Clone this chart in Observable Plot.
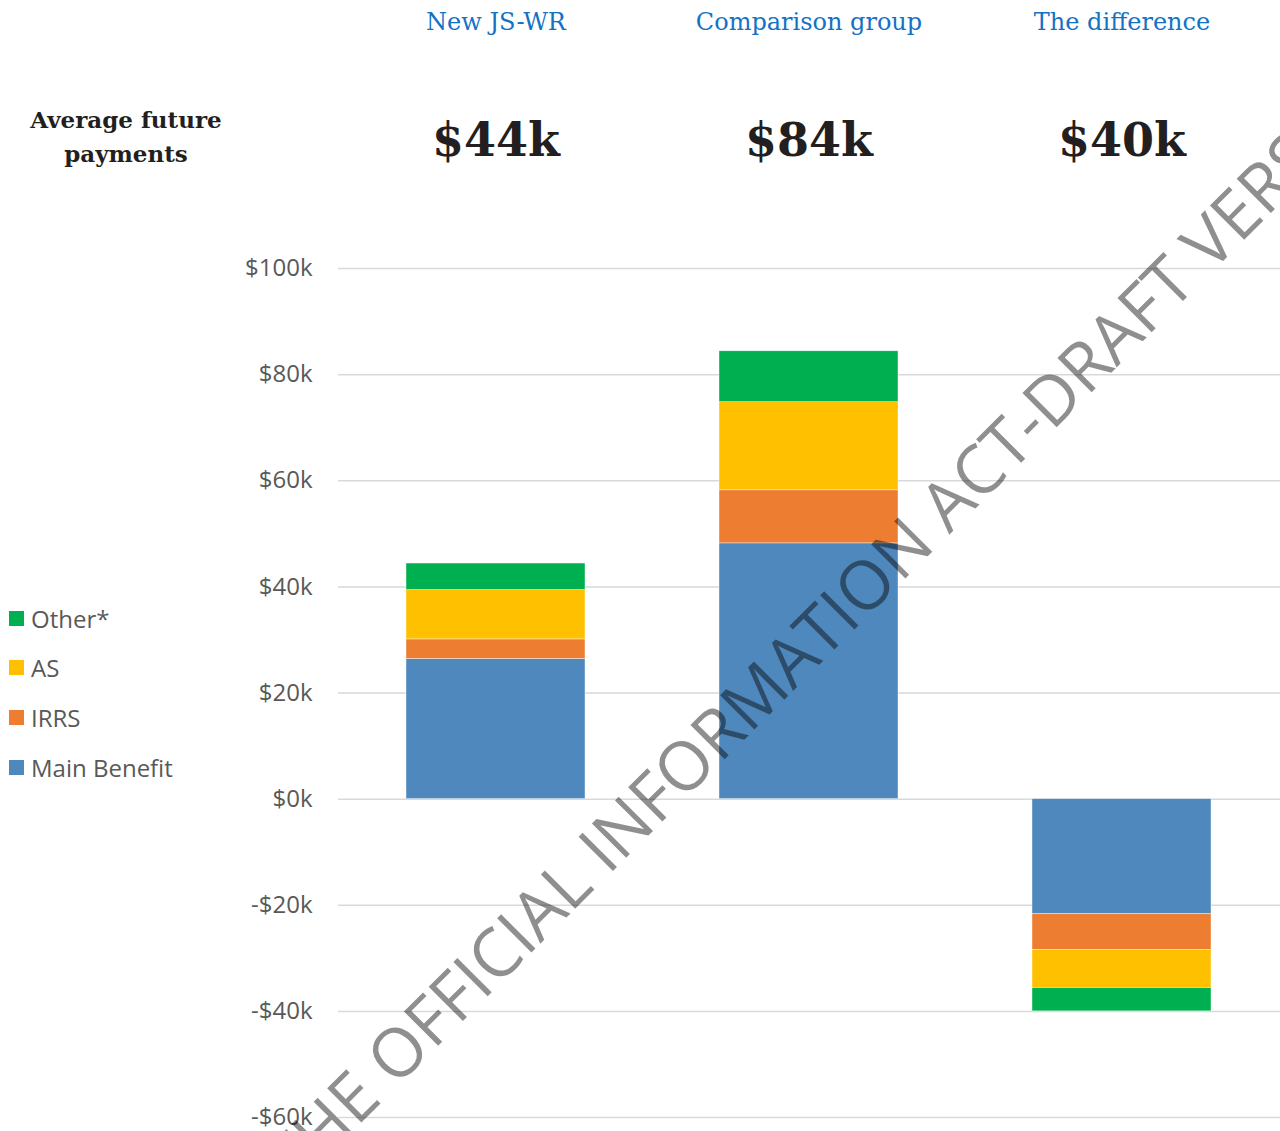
<!DOCTYPE html>
<html>
<head>
<meta charset="utf-8">
<script src="https://cdn.jsdelivr.net/npm/d3@7"></script>
<script src="https://cdn.jsdelivr.net/npm/@observablehq/plot@0.6"></script>
<style>
  body { margin: 0; background: #fff; }
  #wrap { position: relative; width: 1280px; height: 1131px; overflow: hidden; background: #fff; }
  #wrap > svg { position: absolute; left: 0; top: 0; }
  .rowlabel { position: absolute; left: 0; top: 103px; width: 252px; text-align: center;
    font-family: "DejaVu Serif", serif; font-weight: bold; font-size: 23px; line-height: 34px; color: #231F20; }
  .legend { position: absolute; left: 9px; top: 603px; font-family: "Open Sans", sans-serif; font-size: 24px; color: #595959; }
  .legend .row { display: flex; align-items: center; height: 30px; margin-bottom: 19.7px; }
  .legend .sw { width: 15px; height: 15px; margin-right: 7px; }
</style>
</head>
<body>
<div id="wrap"></div>
<script>
// ---- data (values in $ thousands) ----
const groups = ["New JS-WR", "Comparison group", "The difference"];
const totals = ["$44k", "$84k", "$40k"];
const series = ["Main Benefit", "IRRS", "AS", "Other*"];
const mainBenefit = [26.4, 48.2, -21.7];
const irrs = [3.7, 10.0, -6.7];
const as = [9.3, 16.6, -7.2];
const other = [5.0, 9.6, -4.4];
const colors = ["#4F88BC", "#ED7D31", "#FFC000", "#00B050"];
const yTicks = [-60, -40, -20, 0, 20, 40, 60, 80, 100];
const rowLabel = ["Average future", "payments"];
const watermark = ["RELEASED UNDER THE ", "OFFICIAL INFORMATION ACT-DRAFT VERSION"];

const seriesValues = [mainBenefit, irrs, as, other];
const data = series.flatMap((s, i) => groups.map((g, j) => ({group: g, series: s, value: seriesValues[i][j]})));

const fmt = d => (d < 0 ? "-" : "") + "$" + Math.abs(d) + "k";

const chart = Plot.plot({
  width: 1280,
  height: 1131,
  marginTop: 268,
  marginBottom: 14,
  marginLeft: 338,
  marginRight: 0,
  style: {background: "transparent", fontFamily: "Open Sans, sans-serif", fontSize: "24px", color: "#595959"},
  x: {domain: groups, range: [270.5, 1345.5], padding: 0.429, axis: null},
  y: {domain: [-60, 100], axis: null},
  color: {domain: series, range: colors},
  marks: [
    Plot.gridY(yTicks, {stroke: "#d9d9d9", strokeOpacity: 1, strokeWidth: 1.5}),
    Plot.barY(data, {x: "group", y: "value", fill: "series", stroke: "#ffffff", strokeWidth: 0.6, strokeOpacity: 0.7}),
    Plot.axisY(yTicks, {tickSize: 0, tickPadding: 26, tickFormat: fmt, fontSize: 24, fill: "#595959", label: null}),
    Plot.text(groups, {x: d => d, frameAnchor: "top", dy: -256, fill: "#1472C4", fontSize: 24, fontFamily: "DejaVu Serif, serif"}),
    Plot.text(totals, {x: (d, i) => groups[i], frameAnchor: "top", dy: -145, fill: "#231F20", fontSize: 46, fontWeight: "bold", fontFamily: "DejaVu Serif, serif"})
  ]
});

// watermark (decorative overlay)
const wm = d3.select(chart).append("g")
  .attr("transform", "translate(396,1088) rotate(-45)")
  .attr("font-family", "Open Sans, sans-serif")
  .attr("font-size", 68)
  .attr("fill", "#000")
  .attr("fill-opacity", 0.44);
wm.append("text").attr("text-anchor", "end").style("white-space", "pre").text(watermark[0]);
wm.append("text").attr("text-anchor", "start").text(watermark[1]);

const wrap = document.getElementById("wrap");
wrap.appendChild(chart);

// row label
const rl = document.createElement("div");
rl.className = "rowlabel";
rl.innerHTML = rowLabel.join("<br>");
wrap.appendChild(rl);

// legend (top to bottom: reversed stacking order)
const lg = document.createElement("div");
lg.className = "legend";
series.slice().reverse().forEach(s => {
  const row = document.createElement("div");
  row.className = "row";
  const sw = document.createElement("span");
  sw.className = "sw";
  sw.style.background = colors[series.indexOf(s)];
  const t = document.createElement("span");
  t.textContent = s;
  row.appendChild(sw);
  row.appendChild(t);
  lg.appendChild(row);
});
wrap.appendChild(lg);
</script>
</body>
</html>
